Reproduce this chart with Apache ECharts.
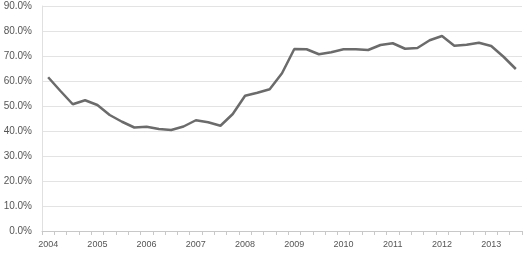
<!DOCTYPE html>
<html>
<head>
<meta charset="utf-8">
<script src="https://cdn.jsdelivr.net/npm/echarts@6/dist/echarts.min.js"></script>
<style>
html,body{margin:0;padding:0;background:#fff;}
#chart{width:530px;height:258px;}
</style>
</head>
<body>
<div id="chart"></div>
<script>
// quarterly, 2004 Q1 - 2013 Q3
var years = ['2004','2005','2006','2007','2008','2009','2010','2011','2012','2013'];
var quarters = [];
for (var i = 0; i < years.length; i++) {
	for (var q = 1; q <= 4; q++) {
		quarters.push(years[i] + 'Q' + q);
	}
}
quarters = quarters.slice(0, 39);

var ratio = [61.5, 56.0, 50.7, 52.3, 50.4, 46.4, 43.7, 41.4, 41.7, 40.8,
	40.4, 41.8, 44.3, 43.5, 42.1, 46.8, 54.1, 55.3, 56.7, 63.1,
	72.8, 72.7, 70.7, 71.5, 72.7, 72.7, 72.4, 74.4, 75.1, 72.9,
	73.2, 76.3, 78.0, 74.1, 74.5, 75.3, 74.0, 69.7, 64.8];

var myChart = echarts.init(document.getElementById('chart'));
var option = {
	animation: false,
	grid: {
		left: 42,
		right: 8,
		top: 6,
		bottom: 27
	},
	xAxis: {
		type: 'category',
		boundaryGap: true,
		data: quarters,
		axisLine: {
			lineStyle: { color: '#c8c8c8', width: 1 }
		},
		axisTick: {
			show: true,
			interval: 0,
			length: 4,
			lineStyle: { color: '#c8c8c8' }
		},
		axisLabel: {
			interval: 3,
			color: '#555',
			fontSize: 9,
			fontFamily: 'Liberation Sans',
			margin: 9,
			formatter: function (v) { return v.substring(0, 4); }
		},
		splitLine: { show: false }
	},
	yAxis: {
		type: 'value',
		min: 0,
		max: 90,
		interval: 10,
		axisLine: {
			show: true,
			lineStyle: { color: '#e0e0e0' }
		},
		axisTick: { show: false },
		axisLabel: {
			color: '#555',
			fontSize: 10,
			fontFamily: 'Liberation Sans',
			margin: 10,
			formatter: function (v) { return v.toFixed(1) + '%'; }
		},
		splitLine: {
			lineStyle: { color: '#e3e3e3', width: 1 }
		}
	},
	series: [{
		type: 'line',
		name: 'ratio',
		symbol: 'none',
		data: ratio,
		lineStyle: { color: '#6b6b6b', width: 2.5 },
		itemStyle: { color: '#6b6b6b' }
	}]
};
myChart.setOption(option);
</script>
</body>
</html>
